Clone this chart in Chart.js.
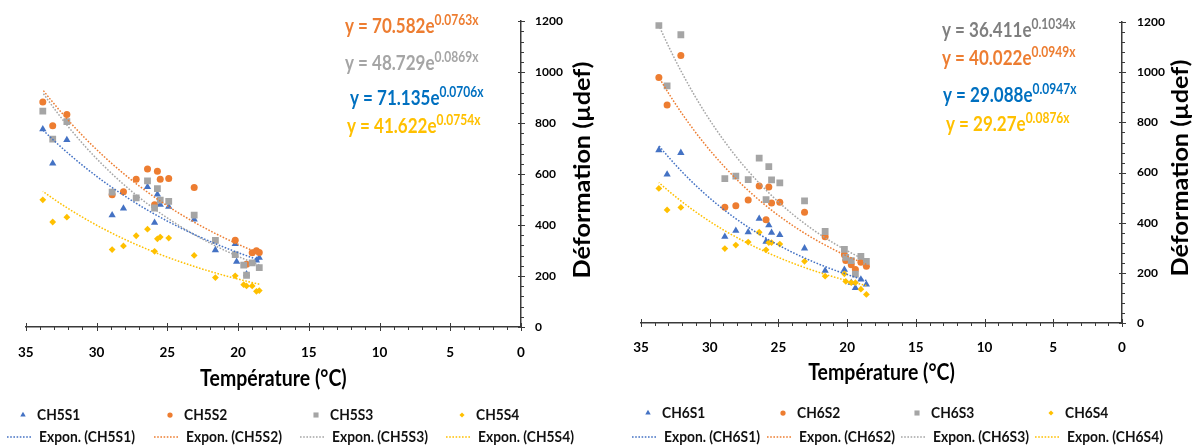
<!DOCTYPE html>
<html lang="fr">
<head>
    <meta charset="utf-8">
    <title>Déformation - Température</title>
    <script src="https://cdn.jsdelivr.net/npm/chart.js"></script>
    <style>
        body {
            margin: 0;
            padding: 0;
            background-color: #fff;
        }
        .wrap {
            position: relative;
            width: 1195px;
            height: 448px;
        }
        #chartCH5 { position: absolute; left: 0; top: 0; }
        #chartCH6 { position: absolute; left: 600px; top: 0; }
    </style>
</head>
<body>
<div class="wrap">
    <canvas id="chartCH5" width="600" height="448" style="width:600px;height:448px"></canvas>
    <canvas id="chartCH6" width="595" height="448" style="width:595px;height:448px"></canvas>
</div>

<script>
    // ---- data ----
    const ch5Names = ['CH5S1', 'CH5S2', 'CH5S3', 'CH5S4'];
    const ch5Temp = [33.8, 33.1, 32.1, 28.9, 28.1, 27.2, 26.4, 25.9, 25.7, 25.5, 24.9, 23.1, 21.6, 20.2, 20.1, 19.6, 19.4, 19.0, 18.7, 18.5];
    const ch5S1 = [776, 642, 734, 439, 465, null, 550, 409, 520, 480, 472, 422, 302, 326, 256, null, 207, null, 261, 272];
    const ch5S2 = [883, 790, 834, 519, 531, 580, 620, 480, 611, 580, 583, 547, null, 340, null, null, 246, 291, 299, 292];
    const ch5S3 = [847, 737, 806, 529, null, 507, 573, 467, 543, 498, 493, 439, 340, 284, null, 243, 203, 252, null, 233];
    const ch5S4 = [499, 412, 431, 304, 318, 358, 384, 297, 346, 353, 349, 281, 194, 201, null, 166, 161, 161, 140, 143];
    const ch5Coef = [71.135, 70.582, 48.729, 41.622];
    const ch5Exp = [0.0706, 0.0763, 0.0869, 0.0754];

    const ch6Names = ['CH6S1', 'CH6S2', 'CH6S3', 'CH6S4'];
    const ch6Temp = [33.7, 33.1, 32.1, 28.9, 28.1, 27.2, 26.4, 25.9, 25.7, 25.5, 24.9, 23.1, 21.6, 20.2, 20.1, 19.7, 19.4, 19.0, 18.6];
    const ch6S1 = [690, 593, 679, 344, 368, 362, 416, 325, 390, 360, 351, 298, 209, 213, null, 161, 140, 174, 154];
    const ch6S2 = [979, 870, 1067, 462, 468, 491, 547, 412, 543, 479, 482, 442, 344, 272, 249, 232, 213, 242, 226];
    const ch6S3 = [1187, 946, 1150, 576, 586, 572, 658, 492, 624, 571, 559, 487, 365, 294, 262, 249, 195, 266, 246];
    const ch6S4 = [537, 451, 461, 297, 311, 323, 362, 292, 321, 321, 315, 246, 187, 196, 166, 161, 161, 135, 114];
    const ch6Coef = [29.088, 40.022, 36.411, 29.27];
    const ch6Exp = [0.0947, 0.0949, 0.1034, 0.0876];

    const xTicks = [0, 35, 5];       // min, max, step
    const yTicks = [0, 1200, 200];

    // ---- styling ----
    const colors = ['#4472C4', '#ED7D31', '#A5A5A5', '#FFC000'];
    const styles = ['triangle', 'circle', 'rect', 'rectRot'];
    const radii = [4.2, 3.5, 4.8, 3.4];
    const FONT = 'Lato, "Open Sans", sans-serif';

    Chart.defaults.font.family = FONT;

    function scatterSet(name, temps, vals, i) {
        const pts = [];
        temps.forEach((t, k) => { if (vals[k] != null) pts.push({ x: t, y: vals[k] }); });
        return {
            type: 'scatter', label: name, data: pts,
            pointStyle: styles[i], pointRadius: radii[i], pointHoverRadius: radii[i],
            pointBackgroundColor: colors[i], pointBorderWidth: 0,
            borderColor: colors[i], showLine: false, order: 10 - i
        };
    }

    // Excel exponential trendline, drawn from the equation shown on the chart
    function trendSet(name, temps, a, b, i) {
        const lo = Math.min(...temps), hi = Math.max(...temps);
        const pts = [];
        for (let k = 0; k <= 40; k++) {
            const x = lo + (hi - lo) * k / 40;
            pts.push({ x: x, y: a * Math.exp(b * x) });
        }
        return {
            type: 'scatter', label: 'Expon. (' + name + ')', data: pts, showLine: true,
            borderColor: colors[i], borderWidth: 1.5, borderDash: [1.6, 1.6],
            pointRadius: 0, pointHoverRadius: 0, fill: false, order: 0
        };
    }

    // text drawn a little taller than wide, like the reference
    function tallText(ctx, txt, x, y, sx, sy) {
        ctx.save();
        ctx.translate(x, y);
        ctx.scale(sx, sy);
        ctx.fillText(txt, 0, 0);
        ctx.restore();
    }

    // minor / major tick marks on both axes
    const tickMarks = {
        id: 'tickMarks',
        afterDraw(chart) {
            const { ctx, scales: { x, y } } = chart;
            ctx.save();
            ctx.strokeStyle = '#3a3a3a';
            ctx.lineWidth = 1;
            for (let v = xTicks[0]; v <= xTicks[1]; v++) {
                const px = Math.round(x.getPixelForValue(v)) + 0.5;
                const major = v % xTicks[2] === 0;
                ctx.beginPath();
                ctx.moveTo(px, x.top - (major ? 4 : 0));
                ctx.lineTo(px, x.top + (major ? 4 : 3));
                ctx.stroke();
            }
            for (let v = yTicks[0]; v <= yTicks[1]; v += 40) {
                const py = Math.round(y.getPixelForValue(v)) + 0.5;
                const major = v % yTicks[2] === 0;
                ctx.beginPath();
                ctx.moveTo(y.left - (major ? 3 : 1), py);
                ctx.lineTo(y.left + (major ? 4 : 3), py);
                ctx.stroke();
            }
            ctx.restore();
        }
    };

    // equations, axis titles and the two-row legend
    const decor = {
        id: 'decor',
        afterDraw(chart, args, o) {
            const { ctx, chartArea } = chart;
            const H = Chart.helpers;
            ctx.save();

            // equations
            o.eqOrder.forEach((s, r) => {
                const main = 'y = ' + o.coef[s] + 'e';
                const sup = o.exp[s].toFixed(4).replace(/0+$/, '') + 'x';
                ctx.fillStyle = o.eqColors[s];
                ctx.textBaseline = 'alphabetic';
                ctx.textAlign = 'left';
                ctx.font = 'bold 17px ' + FONT;
                tallText(ctx, main, o.eqX[r], o.eqY[r], 1, 1.22);
                const w = ctx.measureText(main).width;
                ctx.font = 'bold 12px ' + FONT;
                tallText(ctx, sup, o.eqX[r] + w, o.eqY[r] - 8, 1, 1.2);
            });

            // x title
            ctx.fillStyle = '#000';
            ctx.font = 'bold 19.5px ' + FONT;
            ctx.textAlign = 'center';
            ctx.textBaseline = 'middle';
            tallText(ctx, 'Température (°C)', (chartArea.left + chartArea.right) / 2, o.xTitleY, 1, 1.15);

            // y title, reading upwards
            ctx.save();
            ctx.translate(o.yTitleX, o.yTitleY);
            ctx.rotate(-Math.PI / 2);
            ctx.font = 'bold 21px ' + FONT;
            tallText(ctx, 'Déformation (µdef)', 0, 0, 1.2, 1.05);
            ctx.restore();

            // legend
            ctx.textAlign = 'left';
            ctx.textBaseline = 'middle';
            o.names.forEach((n, i) => {
                const tx = o.legX[i];
                ctx.fillStyle = colors[i];
                H.drawPoint(ctx, { pointStyle: styles[i], radius: radii[i] * 0.75, rotation: 0, borderWidth: 0 }, tx - 14, o.legY[0]);
                ctx.strokeStyle = colors[i];
                ctx.lineWidth = 1.4;
                ctx.setLineDash([1.6, 1.6]);
                ctx.beginPath();
                ctx.moveTo(tx - 30, o.legY[1]);
                ctx.lineTo(tx - 6, o.legY[1]);
                ctx.stroke();
                ctx.setLineDash([]);
                ctx.fillStyle = '#111';
                ctx.font = 'bold 13.8px ' + FONT;
                tallText(ctx, n, tx, o.legY[0], 1, 1.15);
                tallText(ctx, 'Expon. (' + n + ')', tx + 2, o.legY[1], 1, 1.15);
            });
            ctx.restore();
        }
    };

    function makeChart(id, names, temps, series, coef, exp, lay) {
        const datasets = [];
        series.forEach((vals, i) => datasets.push(scatterSet(names[i], temps, vals, i)));
        series.forEach((vals, i) => datasets.push(trendSet(names[i], temps, coef[i], exp[i], i)));
        const W = lay.width, Hh = 448;
        return new Chart(document.getElementById(id), {
            type: 'scatter',
            data: { datasets: datasets },
            options: {
                responsive: false,
                animation: false,
                layout: { padding: { left: lay.left, top: 16, right: 0, bottom: 0 } },
                plugins: {
                    legend: { display: false },
                    tooltip: { enabled: false },
                    decor: lay.decor
                },
                scales: {
                    x: {
                        type: 'linear', min: xTicks[0], max: xTicks[1], reverse: true, position: 'bottom',
                        afterFit(s) { s.height = Hh - lay.bottom; },
                        ticks: { stepSize: xTicks[2], color: '#000', padding: lay.xPad, maxRotation: 0,
                                 callback: v => String(v),
                                 font: { family: FONT, weight: 'bold', size: 13.5 } },
                        grid: { drawOnChartArea: false, drawTicks: false },
                        border: { display: true, color: '#3a3a3a', width: 1.5 }
                    },
                    y: {
                        type: 'linear', min: yTicks[0], max: yTicks[1], position: 'right',
                        afterFit(s) { s.width = W - lay.right; },
                        ticks: { stepSize: yTicks[2], color: '#000', padding: lay.yPad,
                                 callback: v => String(v),
                                 font: { family: FONT, weight: 'bold', size: 12 } },
                        grid: { drawOnChartArea: false, drawTicks: false },
                        border: { display: true, color: '#3a3a3a', width: 1.5 }
                    }
                }
            },
            plugins: [tickMarks, decor]
        });
    }

    makeChart('chartCH5', ch5Names, ch5Temp, [ch5S1, ch5S2, ch5S3, ch5S4], ch5Coef, ch5Exp, {
        width: 600, left: 18, right: 521, bottom: 327, xPad: 18, yPad: 14,
        decor: {
            names: ch5Names, coef: ch5Coef, exp: ch5Exp,
            eqOrder: [1, 2, 0, 3], eqColors: ['#0070C0', '#ED7D31', '#A5A5A5', '#FFC000'],
            eqX: [345, 345, 350, 347], eqY: [33, 70, 105, 133],
            xTitleY: 379, yTitleX: 583, yTitleY: 170,
            legX: [37, 184, 330, 476], legY: [415, 437]
        }
    });

    makeChart('chartCH6', ch6Names, ch6Temp, [ch6S1, ch6S2, ch6S3, ch6S4], ch6Coef, ch6Exp, {
        width: 595, left: 41, right: 522, bottom: 323, xPad: 17, yPad: 15,
        decor: {
            names: ch6Names, coef: ch6Coef, exp: ch6Exp,
            eqOrder: [2, 1, 0, 3], eqColors: ['#0070C0', '#ED7D31', '#7F7F7F', '#FFC000'],
            eqX: [342, 342, 343, 346], eqY: [37, 65, 102, 131],
            xTitleY: 373, yTitleX: 581, yTitleY: 168,
            legX: [62, 197, 331, 465], legY: [413, 437]
        }
    });
</script>
</body>
</html>
